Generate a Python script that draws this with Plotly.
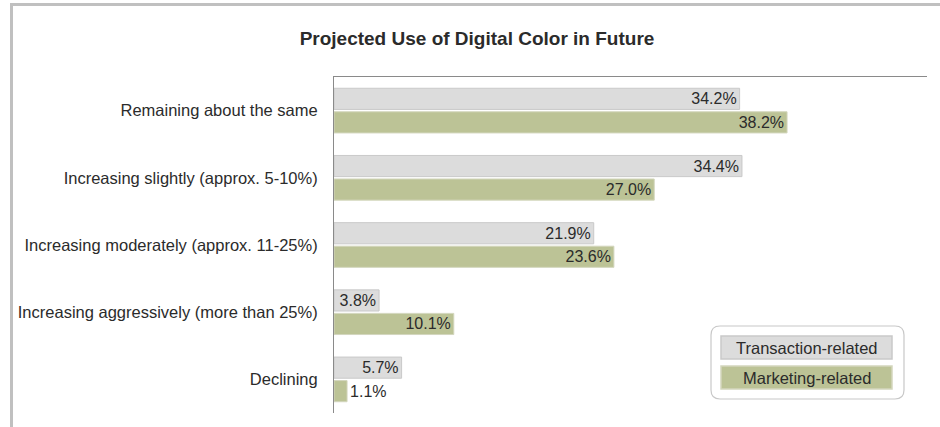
import plotly.graph_objects as go

# Survey responses (percent of respondents)
categories = [
    "Remaining about the same",
    "Increasing slightly (approx. 5-10%)",
    "Increasing moderately (approx. 11-25%)",
    "Increasing aggressively (more than 25%)",
    "Declining",
]
transaction = [34.2, 34.4, 21.9, 3.8, 5.7]
marketing = [38.2, 27.0, 23.6, 10.1, 1.1]
series_names = ["Transaction-related", "Marketing-related"]

W, H = 940, 427
ML, MR, MT, MB = 334, 13, 77, 14
PW, PH = W - ML - MR, H - MT - MB

GREY = "#dcdcdc"
GREY_EDGE = "#c9c9c9"
GREEN = "#bcc396"
GREEN_EDGE = "#d3d6bd"
TEXT = "#2b2b2b"
FONT = "Liberation Sans, Arial, sans-serif"


def px_x(x):
    return (x - ML) / PW


def px_y(y):
    return (H - MB - y) / PH


fig = go.Figure()
for name, vals, fill, edge in [
    (series_names[0], transaction, GREY, GREY_EDGE),
    (series_names[1], marketing, GREEN, GREEN_EDGE),
]:
    fig.add_trace(go.Bar(
        name=name,
        y=categories,
        x=vals,
        orientation="h",
        marker=dict(color=fill, line=dict(color=edge, width=1)),
        texttemplate="%{x:.1f}%",
        textposition="auto",
        insidetextanchor="end",
        textangle=0,
        constraintext="none",
        insidetextfont=dict(family=FONT, size=16, color=TEXT),
        outsidetextfont=dict(family=FONT, size=16, color=TEXT),
        cliponaxis=False,
        showlegend=False,
    ))

shapes = []
# page frame (top and left rules)
shapes.append(dict(type="rect", xref="paper", yref="paper",
                   x0=px_x(10), x1=px_x(940), y0=px_y(6), y1=px_y(3),
                   fillcolor="#c0c0c0", line=dict(width=0), layer="above"))
shapes.append(dict(type="rect", xref="paper", yref="paper",
                   x0=px_x(10), x1=px_x(13), y0=px_y(427), y1=px_y(3),
                   fillcolor="#c0c0c0", line=dict(width=0), layer="above"))


# rounded legend box
def rounded_rect(x0, y0, x1, y1, r):
    X = lambda v: f"{px_x(v):.5f}"
    Y = lambda v: f"{px_y(v):.5f}"
    return (f"M {X(x0 + r)},{Y(y0)} L {X(x1 - r)},{Y(y0)} "
            f"Q {X(x1)},{Y(y0)} {X(x1)},{Y(y0 + r)} "
            f"L {X(x1)},{Y(y1 - r)} Q {X(x1)},{Y(y1)} {X(x1 - r)},{Y(y1)} "
            f"L {X(x0 + r)},{Y(y1)} Q {X(x0)},{Y(y1)} {X(x0)},{Y(y1 - r)} "
            f"L {X(x0)},{Y(y0 + r)} Q {X(x0)},{Y(y0)} {X(x0 + r)},{Y(y0)} Z")


shapes.append(dict(type="path", xref="paper", yref="paper",
                   path=rounded_rect(711, 326, 904, 399, 9),
                   fillcolor="white", line=dict(color="#c8c8c8", width=1.2),
                   layer="above"))

annotations = []
legend_rows = [(series_names[0], GREY, GREY_EDGE, 336, 359),
               (series_names[1], GREEN, GREEN_EDGE, 366, 389)]
for name, fill, edge, y0, y1 in legend_rows:
    shapes.append(dict(type="rect", xref="paper", yref="paper",
                       x0=px_x(721), x1=px_x(892), y0=px_y(y1), y1=px_y(y0),
                       fillcolor=fill, line=dict(color=edge, width=1.5),
                       layer="above"))
    annotations.append(dict(xref="paper", yref="paper",
                            x=px_x(806.5), y=px_y((y0 + y1) / 2),
                            text=name, showarrow=False,
                            xanchor="center", yanchor="middle",
                            font=dict(family=FONT, size=16.5, color=TEXT)))

fig.update_layout(
    width=W, height=H,
    margin=dict(l=ML, r=MR, t=MT, b=MB, pad=0),
    paper_bgcolor="white", plot_bgcolor="white",
    barmode="group", bargap=0.30, bargroupgap=0.1,
    title=dict(text="<b>Projected Use of Digital Color in Future</b>",
               x=477 / W, xanchor="center", xref="container",
               y=1 - 38 / H, yanchor="middle", yref="container",
               font=dict(family=FONT, size=19, color=TEXT)),
    xaxis=dict(range=[0, 50], side="top", showline=True, linecolor="#8a8a8a",
               linewidth=1, showgrid=False, zeroline=False,
               showticklabels=False, ticks="", fixedrange=True,
               automargin=False),
    yaxis=dict(autorange="reversed", showline=True, linecolor="#8a8a8a",
               linewidth=1, showgrid=False, ticks="", ticklabelstandoff=12,
               automargin=False,
               tickfont=dict(family=FONT, size=16.5, color=TEXT)),
    shapes=shapes,
    annotations=annotations,
)

fig.write_html("out.html")
